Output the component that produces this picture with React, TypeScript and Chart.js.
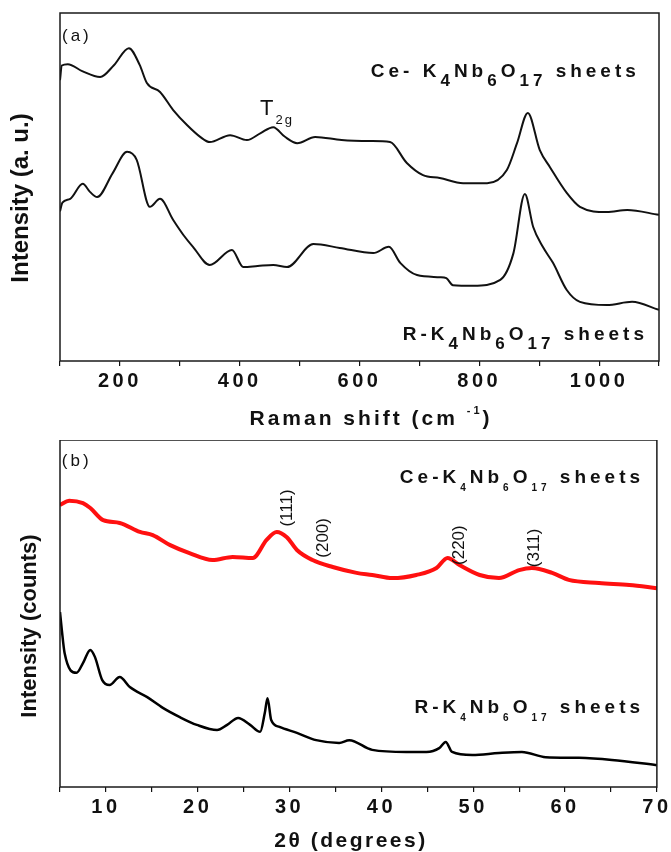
import { useEffect, useRef } from 'react';
import { Chart, registerables } from 'chart.js';

Chart.register(...registerables);

const FONT = '"Liberation Sans", Arial, Helvetica, sans-serif';

// ---------- Panel (a): Raman spectra ----------
const ramanCeShift = [100, 103, 113, 137, 167, 190, 215, 233, 245, 267, 289, 312, 334, 350, 384, 412, 435, 456, 475, 496, 526, 570, 618, 651, 679, 706, 734, 773, 813, 846, 863, 881, 901, 918, 946, 968, 1013, 1047, 1100];
const ramanCeIntensity = [80.7, 84.9, 85.3, 83.3, 81.6, 85.0, 89.9, 85.1, 79.9, 77.3, 72.1, 67.8, 64.4, 62.9, 64.9, 63.5, 65.5, 67.2, 64.5, 62.6, 64.4, 63.5, 63.2, 62.9, 56.9, 53.4, 52.6, 51.1, 51.1, 54.9, 62.6, 71.3, 60.6, 55.7, 48.3, 44.3, 42.8, 43.4, 42.0];

const ramanRShift = [100, 104, 117, 138, 150, 162, 188, 212, 228, 250, 267, 289, 306, 322, 350, 387, 406, 430, 456, 479, 523, 567, 623, 649, 668, 696, 734, 745, 756, 790, 835, 857, 876, 890, 906, 923, 946, 968, 1013, 1055, 1100];
const ramanRIntensity = [43.0, 45.5, 46.6, 50.9, 48.6, 47.1, 54.0, 60.1, 57.8, 44.3, 46.6, 40.5, 36.2, 32.8, 27.6, 31.9, 27.0, 27.3, 27.6, 27.0, 33.6, 32.5, 31.0, 32.8, 28.2, 24.7, 24.1, 23.8, 21.8, 21.6, 23.3, 31.0, 48.0, 38.5, 32.8, 28.2, 20.4, 17.0, 16.1, 17.0, 14.7];

const ramanLabelEvery = 200;

// ---------- Panel (b): XRD patterns ----------
const xrdCeAngle = [5, 6, 7.5, 8.3, 9.7, 11.5, 13.7, 15.1, 17, 19.1, 21.6, 23.8, 26, 27.5, 28.6, 29.7, 30.8, 32.5, 34.7, 37.3, 39, 41.2, 43.8, 46, 47.2, 48.5, 50.7, 52.8, 55, 56.4, 58.6, 60.4, 63.7, 67, 70];
const xrdCeCounts = [81.3, 82.5, 81.8, 80.4, 76.9, 76.1, 73.5, 72.6, 69.7, 67.4, 65.4, 66.3, 66.0, 71.2, 73.5, 72.0, 68.3, 65.4, 63.4, 61.7, 61.1, 60.2, 61.1, 63.1, 66.0, 64.0, 61.1, 60.2, 62.5, 63.1, 61.7, 59.7, 58.8, 58.2, 57.3];

const xrdRAngle = [5, 5.2, 5.5, 6.8, 7.5, 8.3, 8.8, 9.6, 10.4, 11.5, 12.6, 14.5, 16.2, 18, 19.9, 22.1, 23.2, 24.4, 25.7, 26.8, 27.3, 27.6, 28.0, 28.9, 30.8, 32.9, 35.4, 36.5, 39, 42.7, 44.9, 46.3, 47, 47.7, 49.9, 52.8, 55.3, 57.9, 61.5, 65.1, 70];
const xrdRCounts = [50.4, 45.2, 38.6, 32.9, 35.7, 39.5, 37.5, 30.8, 29.4, 31.7, 28.8, 25.9, 22.8, 20.2, 17.9, 16.4, 17.9, 19.9, 17.9, 15.9, 21.3, 25.6, 19.3, 17.3, 15.6, 13.5, 12.7, 13.5, 10.7, 10.1, 10.1, 11.2, 13.0, 10.1, 9.2, 9.8, 10.1, 8.6, 8.4, 7.8, 6.3];

const xrdLabelEvery = 10;

const hklLabels = ['(111)', '(200)', '(220)', '(311)'];
const hklAngles = [29.7, 33.7, 48.5, 56.7];
const hklHeights = [80.4, 71.8, 69.7, 68.9];

// ---------- helpers ----------
type Seg = { t: string; sub?: boolean; sup?: boolean };
type Style = { size: number; subSize: number; weight: string; spacing: number; subDy: number; supDy: number };

const formula = (prefix: string): Seg[] => [
  { t: prefix },
  { t: '4', sub: true },
  { t: 'Nb' },
  { t: '6', sub: true },
  { t: 'O' },
  { t: '17', sub: true },
  { t: ' sheets' },
];

function setFont(ctx: CanvasRenderingContext2D, s: Seg, st: Style) {
  const size = s.sub || s.sup ? st.subSize : st.size;
  ctx.font = `${st.weight} ${size}px ${FONT}`;
  (ctx as any).letterSpacing = `${st.spacing}px`;
}

function drawRich(ctx: CanvasRenderingContext2D, segs: Seg[], x: number, y: number, st: Style, align: 'left' | 'right' | 'center') {
  ctx.save();
  ctx.textBaseline = 'alphabetic';
  ctx.textAlign = 'left';
  ctx.fillStyle = '#111';
  let w = 0;
  for (const s of segs) {
    setFont(ctx, s, st);
    w += ctx.measureText(s.t).width;
  }
  let cx = align === 'right' ? x - w : align === 'center' ? x - w / 2 : x;
  for (const s of segs) {
    setFont(ctx, s, st);
    const dy = s.sub ? st.subDy : s.sup ? -st.supDy : 0;
    ctx.fillText(s.t, cx, y + dy);
    cx += ctx.measureText(s.t).width;
  }
  ctx.restore();
}

function drawRotated(ctx: CanvasRenderingContext2D, text: string, x: number, y: number, font: string, spacing = 0) {
  ctx.save();
  ctx.translate(x, y);
  ctx.rotate(-Math.PI / 2);
  ctx.font = font;
  (ctx as any).letterSpacing = `${spacing}px`;
  ctx.textAlign = 'center';
  ctx.textBaseline = 'middle';
  ctx.fillStyle = '#111';
  ctx.fillText(text, 0, 0);
  ctx.restore();
}

function drawFrame(chart: any) {
  const { ctx, chartArea: ca } = chart;
  ctx.save();
  ctx.strokeStyle = '#1a1a1a';
  ctx.lineWidth = 1.5;
  ctx.strokeRect(ca.left, ca.top, ca.right - ca.left, ca.bottom - ca.top);
  ctx.restore();
}

const tickFont = { family: FONT, size: 20, weight: 'bold' as const };

function baseOptions(xMin: number, xMax: number, step: number, labelEvery: number, xHeight: number, padTop: number) {
  return {
    responsive: false,
    animation: false as const,
    devicePixelRatio: 1,
    layout: { padding: { top: padTop, right: 12, left: 0, bottom: 0 } },
    plugins: { legend: { display: false }, tooltip: { enabled: false }, title: { display: false } },
    elements: { point: { radius: 0 } },
    scales: {
      x: {
        type: 'linear' as const,
        min: xMin,
        max: xMax,
        afterFit: (s: any) => { s.height = xHeight; },
        grid: { drawOnChartArea: false, drawTicks: true, tickLength: 5, color: '#111', lineWidth: 1.2 },
        border: { display: false },
        ticks: {
          stepSize: step,
          autoSkip: false,
          maxRotation: 0,
          padding: 3,
          color: '#111',
          font: tickFont,
          callback: (v: any) => (Math.abs(v % labelEvery) < 1e-9 ? String(v) : ''),
        },
      },
      y: {
        min: 0,
        max: 100,
        afterFit: (s: any) => { s.width = 60; },
        grid: { display: false },
        border: { display: false },
        ticks: { display: false },
      },
    },
  };
}

const bigStyleA: Style = { size: 19, subSize: 17, weight: 'bold', spacing: 4, subDy: 9, supDy: 0 };
const bigStyleB: Style = { size: 19, subSize: 10, weight: 'bold', spacing: 4, subDy: 8, supDy: 0 };
const tagStyle: Style = { size: 17, subSize: 12, weight: 'normal', spacing: 3, subDy: 0, supDy: 0 };

const panelAPlugin = {
  id: 'panelA',
  beforeDraw(chart: any) { chart.ctx.letterSpacing = '3.5px'; },
  afterDraw(chart: any) {
    const { ctx, scales } = chart;
    const x = scales.x, y = scales.y;
    ctx.letterSpacing = '0px';
    drawFrame(chart);
    drawRich(ctx, [{ t: '(a)' }], x.getPixelForValue(103.3), y.getPixelForValue(92), tagStyle, 'left');
    drawRich(ctx, formula('Ce- K'), x.getPixelForValue(1068), y.getPixelForValue(81.6), bigStyleA, 'right');
    drawRich(ctx, formula('R-K'), x.getPixelForValue(1081.6), y.getPixelForValue(6.0), bigStyleA, 'right');
    drawRich(ctx, [{ t: 'T' }, { t: '2g', sub: true }], x.getPixelForValue(434), y.getPixelForValue(70.7), { size: 22, subSize: 13, weight: 'normal', spacing: 2, subDy: 9, supDy: 0 }, 'left');
    drawRich(ctx, [{ t: 'Raman shift (cm ' }, { t: '-1', sup: true }, { t: ')' }], 371, 425, { size: 21, subSize: 11, weight: 'bold', spacing: 3, subDy: 0, supDy: 11 }, 'center');
    drawRotated(ctx, 'Intensity (a. u.)', 21, 198, `bold 24px ${FONT}`);
  },
};

const panelBPlugin = {
  id: 'panelB',
  beforeDraw(chart: any) { chart.ctx.letterSpacing = '3.5px'; },
  afterDraw(chart: any) {
    const { ctx, scales } = chart;
    const x = scales.x, y = scales.y;
    ctx.letterSpacing = '0px';
    drawFrame(chart);
    drawRich(ctx, [{ t: '(b)' }], x.getPixelForValue(5.2), y.getPixelForValue(92.5), tagStyle, 'left');
    drawRich(ctx, formula('Ce-K'), x.getPixelForValue(68.6), y.getPixelForValue(87.6), bigStyleB, 'right');
    drawRich(ctx, formula('R-K'), x.getPixelForValue(68.6), y.getPixelForValue(21.3), bigStyleB, 'right');
    hklLabels.forEach((lab, i) => {
      drawRotated(ctx, lab, x.getPixelForValue(hklAngles[i]), y.getPixelForValue(hklHeights[i]), `normal 17px ${FONT}`);
    });
    drawRich(ctx, [{ t: '2θ (degrees)' }], 351, 407, { size: 21, subSize: 11, weight: 'bold', spacing: 2.5, subDy: 0, supDy: 0 }, 'center');
    drawRotated(ctx, 'Intensity (counts)', 30, 186, `bold 22px ${FONT}`);
  },
};

const toPoints = (xs: number[], ys: number[]) => xs.map((v, i) => ({ x: v, y: ys[i] }));

export default function App() {
  const refA = useRef<HTMLCanvasElement>(null);
  const refB = useRef<HTMLCanvasElement>(null);

  useEffect(() => {
    const chartA = new Chart(refA.current as HTMLCanvasElement, {
      type: 'line',
      data: {
        datasets: [
          { data: toPoints(ramanCeShift, ramanCeIntensity), borderColor: '#111', borderWidth: 2, cubicInterpolationMode: 'monotone', fill: false },
          { data: toPoints(ramanRShift, ramanRIntensity), borderColor: '#111', borderWidth: 2, cubicInterpolationMode: 'monotone', fill: false },
        ],
      },
      options: baseOptions(100, 1100, 100, ramanLabelEvery, 79, 13) as any,
      plugins: [panelAPlugin],
    });
    const chartB = new Chart(refB.current as HTMLCanvasElement, {
      type: 'line',
      data: {
        datasets: [
          { data: toPoints(xrdCeAngle, xrdCeCounts), borderColor: '#ff1010', borderWidth: 4, cubicInterpolationMode: 'monotone', fill: false },
          { data: toPoints(xrdRAngle, xrdRCounts), borderColor: '#000000', borderWidth: 2.5, cubicInterpolationMode: 'monotone', fill: false },
        ],
      },
      options: baseOptions(5, 70, 5, xrdLabelEvery, 65, 0) as any,
      plugins: [panelBPlugin],
    });
    return () => {
      chartA.destroy();
      chartB.destroy();
    };
  }, []);

  return (
    <div style={{ position: 'absolute', left: 0, top: 0, width: 671, height: 852, background: '#fff' }}>
      <canvas ref={refA} width={671} height={440} style={{ position: 'absolute', left: 0, top: 0, width: 671, height: 440 }} />
      <canvas ref={refB} width={671} height={412} style={{ position: 'absolute', left: 0, top: 440, width: 671, height: 412 }} />
    </div>
  );
}
